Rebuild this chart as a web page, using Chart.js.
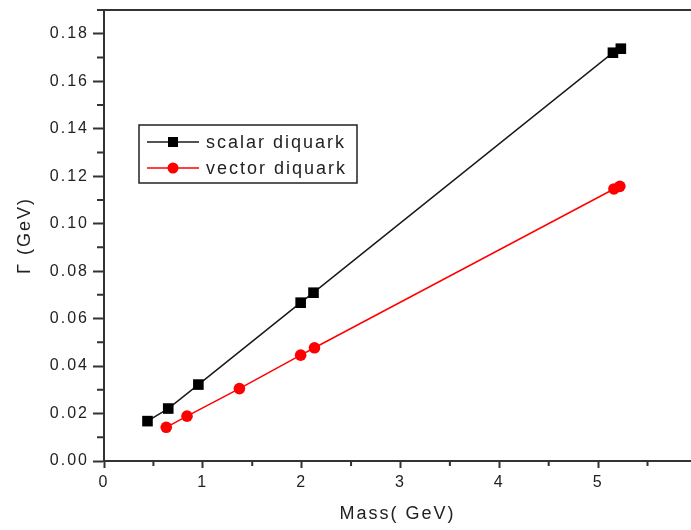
<!DOCTYPE html>
<html>
<head>
<meta charset="utf-8">
<script src="https://cdn.jsdelivr.net/npm/chart.js@4"></script>
<style>
  html, body { margin: 0; padding: 0; background: #fff; overflow: hidden; }
  canvas { display: block; }
</style>
</head>
<body>
<canvas id="chart" width="691" height="530"></canvas>
<script>
// values
const scalarMass = [0.44, 0.65, 0.955, 1.99, 2.12, 5.15, 5.23];
const scalarWidth = [0.0168, 0.0221, 0.0322, 0.0667, 0.0709, 0.172, 0.1737];
const vectorMass = [0.63, 0.84, 1.37, 1.99, 2.13, 5.16, 5.22];
const vectorWidth = [0.0142, 0.0189, 0.0305, 0.0446, 0.0477, 0.1146, 0.1157];
const seriesNames = ['scalar diquark', 'vector diquark'];

const toPoints = (xs, ys) => xs.map((x, i) => ({ x: x, y: ys[i] }));

const axisColor = '#333';
const fontFamily = '"Liberation Sans", Arial, sans-serif';
Chart.defaults.font.family = fontFamily;
Chart.defaults.color = '#222';

const isWhole = v => Math.abs(v - Math.round(v)) < 1e-6;
const isEvenHundredth = v => Math.round(v * 100) % 2 === 0;

// minor ticks, top frame and the boxed legend
const extras = {
  id: 'extras',
  beforeDraw(chart) {
    chart.ctx.letterSpacing = '2px';
  },
  afterDraw(chart) {
    const ctx = chart.ctx;
    const area = chart.chartArea;
    const xs = chart.scales.x, ys = chart.scales.y;
    ctx.save();
    ctx.strokeStyle = axisColor;
    ctx.lineWidth = 2;
    ctx.beginPath();
    xs.ticks.forEach(t => {
      if (!isWhole(t.value)) {
        const px = xs.getPixelForValue(t.value);
        ctx.moveTo(px, area.bottom);
        ctx.lineTo(px, area.bottom + 5);
      }
    });
    ys.ticks.forEach(t => {
      if (!isEvenHundredth(t.value)) {
        const py = ys.getPixelForValue(t.value);
        ctx.moveTo(area.left - 7, py);
        ctx.lineTo(area.left, py);
      }
    });
    // top frame
    ctx.moveTo(area.left, area.top);
    ctx.lineTo(area.right, area.top);
    ctx.stroke();

    // legend
    const bx = area.left + 35, by = area.top + 115, bw = 218, bh = 58;
    ctx.lineWidth = 1.5;
    ctx.strokeStyle = '#222';
    ctx.strokeRect(bx, by, bw, bh);
    chart.data.datasets.forEach((ds, i) => {
      const cy = by + 17 + i * 26;
      ctx.strokeStyle = ds.borderColor;
      ctx.lineWidth = 1.5;
      ctx.beginPath();
      ctx.moveTo(bx + 8, cy);
      ctx.lineTo(bx + 60, cy);
      ctx.stroke();
      ctx.fillStyle = ds.pointBackgroundColor;
      ctx.beginPath();
      if (ds.pointStyle === 'rect') {
        ctx.rect(bx + 34 - 5, cy - 5, 10, 10);
      } else {
        ctx.arc(bx + 34, cy, 5.5, 0, Math.PI * 2);
      }
      ctx.fill();
      ctx.fillStyle = '#222';
      ctx.font = '18px ' + fontFamily;
      ctx.textBaseline = 'middle';
      ctx.textAlign = 'left';
      ctx.fillText(ds.label, bx + 67, cy + 1);
    });
    ctx.restore();
  }
};

new Chart(document.getElementById('chart'), {
  type: 'scatter',
  data: {
    datasets: [
      {
        label: seriesNames[0],
        data: toPoints(scalarMass, scalarWidth),
        showLine: true,
        borderColor: '#1a1a1a',
        borderWidth: 1.5,
        pointStyle: 'rect',
        pointRadius: 7.5,
        pointBorderWidth: 0,
        pointBackgroundColor: '#000'
      },
      {
        label: seriesNames[1],
        data: toPoints(vectorMass, vectorWidth),
        showLine: true,
        borderColor: '#ff0000',
        borderWidth: 1.5,
        pointStyle: 'circle',
        pointRadius: 5.8,
        pointBorderWidth: 0,
        pointBackgroundColor: '#ff0000'
      }
    ]
  },
  options: {
    responsive: false,
    animation: false,
    devicePixelRatio: 1,
    layout: { autoPadding: false, padding: { top: 10, right: 0, left: 0, bottom: 0 } },
    plugins: {
      legend: { display: false },
      tooltip: { enabled: false }
    },
    scales: {
      x: {
        type: 'linear',
        min: 0,
        max: 5.94,
        afterFit: s => { s.height = 69; s.paddingLeft = 0; s.paddingRight = 0; },
        border: { display: true, color: axisColor, width: 2 },
        grid: {
          drawOnChartArea: false,
          tickLength: 7,
          tickWidth: 2,
          tickColor: c => (c.tick && isWhole(c.tick.value)) ? axisColor : 'rgba(0,0,0,0)'
        },
        ticks: {
          stepSize: 0.5,
          includeBounds: false,
          autoSkip: false,
          maxRotation: 0,
          padding: 5,
          font: { size: 16 },
          color: '#222',
          callback: v => isWhole(v) ? String(Math.round(v)) : ''
        },
        title: {
          display: true,
          text: 'Mass( GeV)',
          font: { size: 18 },
          color: '#222',
          padding: { top: 0, bottom: 5 }
        }
      },
      y: {
        type: 'linear',
        min: 0,
        max: 0.19,
        afterFit: s => { s.width = 104; s.paddingTop = 0; s.paddingBottom = 0; },
        border: { display: true, color: axisColor, width: 2 },
        grid: {
          drawOnChartArea: false,
          tickLength: 11,
          tickWidth: 2,
          tickColor: c => (c.tick && isEvenHundredth(c.tick.value)) ? axisColor : 'rgba(0,0,0,0)'
        },
        ticks: {
          stepSize: 0.01,
          autoSkip: false,
          padding: 4,
          font: { size: 16 },
          color: '#222',
          callback: v => isEvenHundredth(v) ? v.toFixed(2) : ''
        },
        title: {
          display: true,
          text: 'Γ (GeV)',
          font: { size: 18 },
          color: '#222',
          padding: { top: 14, bottom: 0 }
        }
      }
    }
  },
  plugins: [extras]
});
</script>
</body>
</html>
